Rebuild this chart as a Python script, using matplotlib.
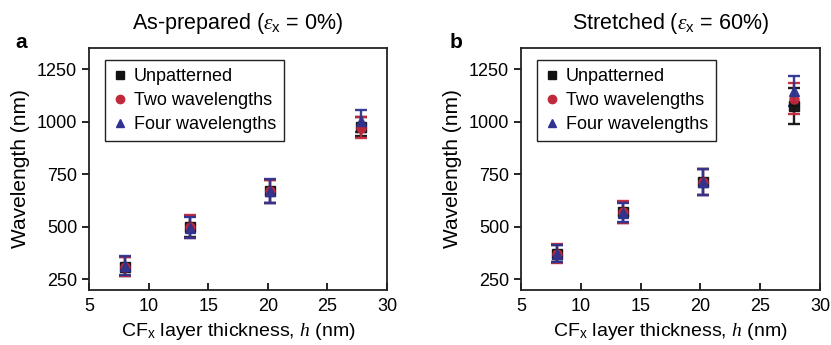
import matplotlib
matplotlib.use("Agg")
import matplotlib.pyplot as plt
from matplotlib.lines import Line2D

plt.rcParams['font.family'] = ['Liberation Sans', 'DejaVu Sans']
plt.rcParams['mathtext.fontset'] = 'custom'
plt.rcParams['mathtext.rm'] = 'Liberation Sans'
plt.rcParams['mathtext.it'] = 'Liberation Serif:italic'
plt.rcParams['mathtext.bf'] = 'Liberation Sans:bold'

# Layer thickness (nm)
thickness = [8, 13.5, 20.2, 27.8]

# As-prepared (0 % strain)
prep_unpat = [310, 500, 670, 975]
prep_unpat_err = [45, 50, 55, 45]
prep_two = [310, 500, 670, 970]
prep_two_err = [45, 55, 55, 50]
prep_four = [315, 495, 670, 1005]
prep_four_err = [45, 50, 58, 52]

# Stretched (60 % strain)
str_unpat = [373, 570, 715, 1075]
str_unpat_err = [40, 50, 62, 85]
str_two = [373, 570, 715, 1110]
str_two_err = [45, 52, 62, 75]
str_four = [373, 568, 715, 1145]
str_four_err = [42, 45, 62, 72]

series_names = ['Unpatterned', 'Two wavelengths', 'Four wavelengths']
colors = ['#111111', '#c0283c', '#2e3490']
markers = ['s', 'o', '^']

x_ticks = [5, 10, 15, 20, 25, 30]
y_ticks = [250, 500, 750, 1000, 1250]

fig = plt.figure(figsize=(8.31, 3.45), dpi=100)
ax_a = fig.add_axes([89 / 831, 55 / 345, 298 / 831, 242 / 345])
ax_b = fig.add_axes([521 / 831, 55 / 345, 299 / 831, 242 / 345])

panels = [
    (ax_a, [(prep_unpat, prep_unpat_err), (prep_two, prep_two_err), (prep_four, prep_four_err)],
     r'As-prepared ($\varepsilon_{\mathrm{x}}$ = 0%)', 'a'),
    (ax_b, [(str_unpat, str_unpat_err), (str_two, str_two_err), (str_four, str_four_err)],
     r'Stretched ($\varepsilon_{\mathrm{x}}$ = 60%)', 'b'),
]

for ax, data, title, letter in panels:
    for (vals, errs), c, m in zip(data, colors, markers):
        ax.errorbar(thickness, vals, yerr=errs, fmt=m, color=c, ecolor=c,
                    markersize=6.5, elinewidth=1.7, capsize=4.5, capthick=1.7,
                    alpha=0.95)
    ax.set_xlim(5, 30)
    ax.set_ylim(200, 1350)
    ax.set_xticks(x_ticks)
    ax.set_yticks(y_ticks)
    ax.tick_params(axis='x', direction='in', length=5, width=1.2, labelsize=13, pad=6)
    ax.tick_params(axis='y', direction='out', length=5, width=1.2, labelsize=13)
    for sp in ax.spines.values():
        sp.set_linewidth(1.3)
        sp.set_color('#222222')
    ax.set_xlabel(r'CF$_{\mathrm{x}}$ layer thickness, $h$ (nm)', fontsize=14, labelpad=4)
    ax.set_ylabel('Wavelength (nm)', fontsize=15, labelpad=5)
    ax.set_title(title, fontsize=15.5, pad=14)

    handles = [Line2D([], [], linestyle='none', marker=m, color=c, markersize=6)
               for c, m in zip(colors, markers)]
    leg = ax.legend(handles, series_names, loc='upper left',
                    bbox_to_anchor=(0.053, 0.95), borderaxespad=0,
                    fontsize=13, frameon=True, fancybox=False, handletextpad=0.35,
                    handlelength=0.8, borderpad=0.45, labelspacing=0.38)
    frame = leg.get_frame()
    frame.set_edgecolor('#222222')
    frame.set_linewidth(1.0)
    frame.set_alpha(1)

fig.text(15 / 831, 1 - 42 / 345, 'a', fontsize=15, fontweight='bold', va='center')
fig.text(450 / 831, 1 - 42 / 345, 'b', fontsize=15, fontweight='bold', va='center')

fig.savefig('out.png', dpi=100)
